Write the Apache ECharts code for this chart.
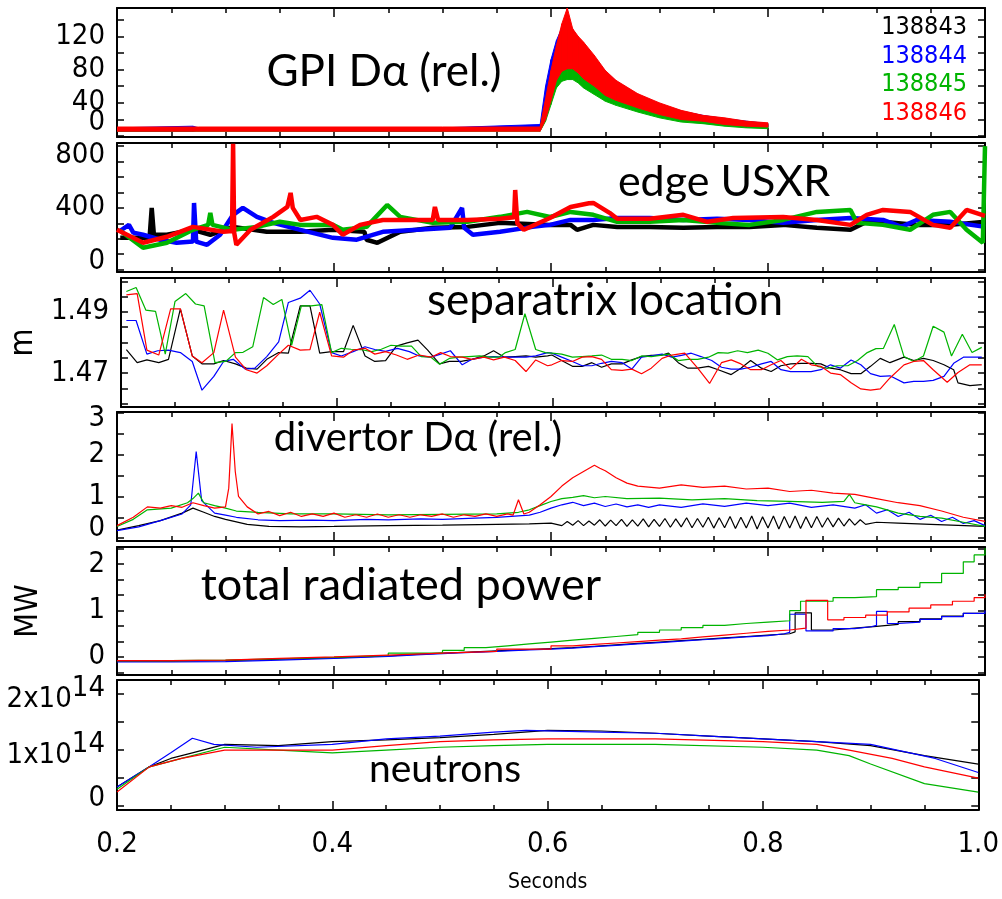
<!DOCTYPE html>
<html>
<head>
<meta charset="utf-8">
<script src="https://cdn.jsdelivr.net/npm/echarts@6/dist/echarts.min.js"></script>
<style>
  html, body { margin: 0; padding: 0; background: #fff; }
  #chart { width: 1002px; height: 899px; }
</style>
</head>
<body>
<div id="chart"></div>
<script>
// shots: 138843 black, 138844 blue, 138845 green, 138846 red
const shots = ['138843', '138844', '138845', '138846'];
const shotColors = ['#000000', '#0000ff', '#00b400', '#ff0000'];

// GPI D-alpha: noisy band, lower / upper envelope per shot (no GPI trace for 138843)
const gpiTime = [0.200, 0.270, 0.275, 0.400, 0.500, 0.590, 0.595, 0.600, 0.605, 0.610, 0.615, 0.620, 0.625, 0.630, 0.640, 0.650, 0.660, 0.680, 0.700, 0.720, 0.740, 0.760, 0.780, 0.800];
const gpiBlueLow = [6, 6, 7, 6, 6, 8, 30, 55, 72, 78, 80, 78, 72, 65, 56, 46, 40, 32, 25, 19, 16, 13, 11, 10];
const gpiBlueHigh = [10, 12, 10, 10, 10, 14, 60, 92, 115, 130, 140, 128, 118, 110, 95, 78, 66, 50, 39, 30, 25, 21, 18, 15];
const gpiGreenLow = [6, 6, 6, 6, 6, 6, 18, 38, 58, 66, 68, 68, 64, 58, 50, 42, 37, 29, 22, 17, 15, 12, 10, 9];
const gpiGreenHigh = [10, 10, 10, 10, 10, 10, 40, 72, 100, 122, 132, 122, 112, 105, 90, 74, 62, 48, 37, 29, 23, 20, 17, 14];
const gpiRedLow = [6, 6, 6, 6, 6, 6, 20, 43, 67, 78, 81, 81, 76, 69, 60, 49, 43, 34, 26, 20, 18, 14, 12, 11];
const gpiRedHigh = [11, 11, 11, 11, 11, 11, 45, 79, 109, 135, 154, 129, 120, 113, 97, 79, 67, 51, 40, 31, 25, 22, 18, 16];

// edge USXR [s, value]
const usxrBlack = [[0.203,206],[0.230,206],[0.232,400],[0.234,226],[0.246,226],[0.270,258],[0.286,226],[0.307,277],[0.338,245],[0.369,245],[0.399,258],[0.428,245],[0.430,194],[0.440,174],[0.461,245],[0.491,271],[0.523,277],[0.553,303],[0.599,290],[0.618,290],[0.624,258],[0.639,290],[0.661,277],[0.691,277],[0.722,271],[0.753,277],[0.783,277],[0.814,290],[0.845,271],[0.876,258],[0.891,310],[0.906,310],[0.937,290],[0.968,290],[1.0,310]];
const usxrBlue = [[0.203,252],[0.211,290],[0.215,240],[0.224,226],[0.240,194],[0.255,174],[0.270,182],[0.271,432],[0.273,182],[0.283,161],[0.295,226],[0.307,355],[0.316,400],[0.329,342],[0.344,303],[0.369,258],[0.399,206],[0.421,194],[0.445,245],[0.477,258],[0.507,271],[0.518,400],[0.520,271],[0.528,226],[0.553,245],[0.583,277],[0.599,290],[0.618,322],[0.639,322],[0.661,335],[0.691,335],[0.722,322],[0.753,330],[0.783,322],[0.814,303],[0.845,322],[0.876,335],[0.906,322],[0.923,277],[0.937,322],[0.968,310],[1.0,277]];
const usxrGreen = [[0.203,252],[0.224,142],[0.246,174],[0.270,258],[0.284,290],[0.286,368],[0.288,290],[0.307,258],[0.329,277],[0.350,310],[0.369,290],[0.399,290],[0.408,258],[0.430,277],[0.449,419],[0.461,342],[0.491,303],[0.523,310],[0.553,342],[0.578,374],[0.599,341],[0.618,374],[0.639,355],[0.661,310],[0.691,310],[0.722,322],[0.753,303],[0.783,290],[0.814,322],[0.845,374],[0.876,387],[0.882,303],[0.906,290],[0.931,258],[0.952,355],[0.968,374],[0.983,258],[0.998,174],[1.0,800]];
const usxrRed = [[0.200,258],[0.224,174],[0.246,213],[0.270,277],[0.298,245],[0.306,250],[0.307,815],[0.308,240],[0.310,161],[0.323,258],[0.344,342],[0.357,406],[0.360,497],[0.362,400],[0.369,322],[0.384,342],[0.399,290],[0.408,226],[0.424,290],[0.445,322],[0.491,322],[0.493,406],[0.496,322],[0.523,322],[0.553,330],[0.566,340],[0.567,516],[0.569,300],[0.575,258],[0.599,335],[0.618,406],[0.635,430],[0.639,432],[0.654,368],[0.661,329],[0.691,329],[0.722,355],[0.744,310],[0.768,335],[0.814,341],[0.845,322],[0.876,290],[0.891,355],[0.906,387],[0.931,374],[0.952,290],[0.968,271],[0.983,387],[1.0,348]];

// separatrix location (m)
const sepBlack = [[0.205,1.4777],[0.215,1.4734],[0.224,1.4743],[0.235,1.4734],[0.244,1.4745],[0.255,1.4910],[0.266,1.4756],[0.275,1.4730],[0.286,1.4730],[0.295,1.4741],[0.306,1.4730],[0.316,1.4716],[0.326,1.4713],[0.335,1.4745],[0.346,1.4767],[0.355,1.4765],[0.366,1.4920],[0.375,1.4920],[0.384,1.4765],[0.395,1.4770],[0.406,1.4770],[0.415,1.4856],[0.426,1.4756],[0.435,1.4738],[0.445,1.4741],[0.455,1.4788],[0.465,1.4799],[0.475,1.4808],[0.484,1.4775],[0.495,1.4730],[0.504,1.4738],[0.515,1.4738],[0.525,1.4745],[0.536,1.4756],[0.545,1.4773],[0.555,1.4752],[0.565,1.4754],[0.575,1.4756],[0.584,1.4752],[0.595,1.4756],[0.599,1.4759],[0.608,1.4741],[0.618,1.4722],[0.627,1.4722],[0.636,1.4734],[0.645,1.4719],[0.654,1.4730],[0.664,1.4730],[0.673,1.4743],[0.682,1.4754],[0.691,1.4758],[0.701,1.4759],[0.707,1.4765],[0.716,1.4734],[0.725,1.4716],[0.734,1.4716],[0.744,1.4722],[0.753,1.4711],[0.765,1.4695],[0.774,1.4716],[0.783,1.4741],[0.793,1.4716],[0.802,1.4705],[0.811,1.4724],[0.820,1.4730],[0.830,1.4732],[0.839,1.4732],[0.848,1.4730],[0.857,1.4716],[0.866,1.4711],[0.876,1.4698],[0.885,1.4698],[0.894,1.4722],[0.903,1.4748],[0.912,1.4734],[0.925,1.4752],[0.934,1.4741],[0.943,1.4748],[0.952,1.4741],[0.962,1.4727],[0.971,1.4711],[0.975,1.4668],[0.986,1.4659],[0.997,1.4662]];
const sepBlue = [[0.205,1.4872],[0.214,1.4872],[0.224,1.4762],[0.234,1.4773],[0.244,1.4775],[0.255,1.4767],[0.266,1.4738],[0.275,1.4644],[0.286,1.4689],[0.295,1.4738],[0.304,1.4745],[0.315,1.4713],[0.324,1.4716],[0.335,1.4754],[0.346,1.4802],[0.355,1.4931],[0.366,1.4945],[0.375,1.4971],[0.384,1.4926],[0.395,1.4767],[0.404,1.4756],[0.415,1.4770],[0.426,1.4786],[0.435,1.4777],[0.445,1.4771],[0.456,1.4781],[0.467,1.4770],[0.476,1.4756],[0.487,1.4752],[0.496,1.4762],[0.505,1.4773],[0.516,1.4727],[0.525,1.4745],[0.536,1.4752],[0.545,1.4754],[0.555,1.4752],[0.565,1.4752],[0.575,1.4752],[0.584,1.4756],[0.595,1.4767],[0.599,1.4765],[0.608,1.4752],[0.618,1.4738],[0.627,1.4724],[0.636,1.4724],[0.645,1.4732],[0.654,1.4738],[0.664,1.4734],[0.673,1.4713],[0.682,1.4752],[0.691,1.4756],[0.701,1.4762],[0.710,1.4752],[0.719,1.4758],[0.728,1.4765],[0.737,1.4754],[0.747,1.4741],[0.756,1.4719],[0.765,1.4713],[0.774,1.4713],[0.783,1.4719],[0.793,1.4730],[0.802,1.4738],[0.811,1.4711],[0.820,1.4705],[0.830,1.4705],[0.839,1.4705],[0.848,1.4711],[0.857,1.4727],[0.866,1.4716],[0.876,1.4743],[0.885,1.4727],[0.894,1.4698],[0.903,1.4689],[0.912,1.4691],[0.925,1.4668],[0.934,1.4673],[0.943,1.4673],[0.952,1.4676],[0.962,1.4689],[0.971,1.4732],[0.980,1.4752],[0.989,1.4752],[0.997,1.4752]];
const sepGreen = [[0.205,1.4967],[0.214,1.4980],[0.223,1.4906],[0.232,1.4902],[0.241,1.4762],[0.250,1.4934],[0.260,1.4960],[0.269,1.4926],[0.277,1.4920],[0.287,1.4734],[0.297,1.4738],[0.306,1.4767],[0.313,1.4768],[0.322,1.4786],[0.332,1.4947],[0.341,1.4924],[0.349,1.4941],[0.358,1.4791],[0.367,1.4920],[0.376,1.4920],[0.386,1.4924],[0.395,1.4767],[0.404,1.4781],[0.413,1.4778],[0.422,1.4777],[0.432,1.4770],[0.441,1.4778],[0.450,1.4791],[0.459,1.4788],[0.469,1.4788],[0.478,1.4754],[0.487,1.4752],[0.495,1.4729],[0.504,1.4748],[0.513,1.4752],[0.522,1.4754],[0.532,1.4756],[0.541,1.4752],[0.550,1.4752],[0.556,1.4767],[0.565,1.4777],[0.574,1.4894],[0.584,1.4777],[0.593,1.4767],[0.599,1.4765],[0.608,1.4762],[0.618,1.4752],[0.627,1.4754],[0.636,1.4756],[0.645,1.4759],[0.654,1.4745],[0.664,1.4745],[0.673,1.4741],[0.682,1.4756],[0.691,1.4754],[0.701,1.4759],[0.707,1.4762],[0.716,1.4741],[0.725,1.4745],[0.734,1.4745],[0.744,1.4752],[0.753,1.4767],[0.762,1.4765],[0.771,1.4773],[0.780,1.4767],[0.790,1.4775],[0.799,1.4765],[0.808,1.4743],[0.817,1.4754],[0.826,1.4756],[0.836,1.4754],[0.845,1.4722],[0.854,1.4715],[0.863,1.4724],[0.873,1.4724],[0.882,1.4741],[0.891,1.4767],[0.899,1.4780],[0.906,1.4781],[0.916,1.4859],[0.925,1.4754],[0.934,1.4738],[0.943,1.4756],[0.952,1.4853],[0.962,1.4834],[0.969,1.4756],[0.979,1.4827],[0.988,1.4767],[0.997,1.4784]];
const sepRed = [[0.205,1.4956],[0.215,1.4960],[0.224,1.4775],[0.235,1.4759],[0.246,1.4910],[0.255,1.4910],[0.266,1.4756],[0.275,1.4734],[0.286,1.4767],[0.295,1.4906],[0.306,1.4752],[0.316,1.4711],[0.326,1.4700],[0.335,1.4724],[0.346,1.4762],[0.355,1.4791],[0.366,1.4775],[0.375,1.4777],[0.384,1.4899],[0.395,1.4756],[0.406,1.4752],[0.415,1.4775],[0.426,1.4781],[0.435,1.4762],[0.445,1.4770],[0.455,1.4759],[0.465,1.4745],[0.476,1.4759],[0.487,1.4752],[0.496,1.4767],[0.505,1.4754],[0.516,1.4752],[0.525,1.4745],[0.536,1.4752],[0.545,1.4743],[0.555,1.4752],[0.565,1.4741],[0.575,1.4705],[0.584,1.4743],[0.595,1.4724],[0.599,1.4727],[0.608,1.4741],[0.618,1.4738],[0.627,1.4752],[0.636,1.4754],[0.645,1.4745],[0.654,1.4711],[0.664,1.4709],[0.673,1.4713],[0.682,1.4698],[0.691,1.4716],[0.701,1.4748],[0.710,1.4759],[0.722,1.4765],[0.734,1.4716],[0.745,1.4666],[0.756,1.4734],[0.765,1.4743],[0.774,1.4730],[0.783,1.4711],[0.793,1.4711],[0.802,1.4727],[0.811,1.4741],[0.820,1.4713],[0.830,1.4745],[0.839,1.4727],[0.848,1.4722],[0.857,1.4700],[0.866,1.4695],[0.876,1.4668],[0.885,1.4648],[0.894,1.4644],[0.903,1.4648],[0.912,1.4684],[0.925,1.4727],[0.934,1.4738],[0.943,1.4741],[0.952,1.4711],[0.965,1.4670],[0.975,1.4702],[0.986,1.4727],[0.997,1.4727]];

// divertor D-alpha (rel.)
const divBlack = [[0.20,0.19],[0.22,0.30],[0.24,0.42],[0.26,0.60],[0.27,0.72],[0.28,0.62],[0.29,0.52],[0.30,0.45],[0.32,0.33],[0.34,0.28],[0.37,0.27],[0.40,0.28],[0.45,0.30],[0.50,0.31],[0.55,0.33],[0.58,0.34],[0.60,0.36],[0.61,0.30],[0.615,0.40],[0.62,0.31],[0.625,0.42],[0.63,0.30],[0.635,0.41],[0.64,0.31],[0.645,0.44],[0.65,0.29],[0.655,0.43],[0.66,0.30],[0.665,0.45],[0.67,0.28],[0.675,0.44],[0.68,0.29],[0.685,0.46],[0.69,0.27],[0.695,0.45],[0.70,0.28],[0.705,0.47],[0.71,0.26],[0.715,0.46],[0.72,0.27],[0.725,0.49],[0.73,0.25],[0.735,0.47],[0.74,0.26],[0.745,0.50],[0.75,0.24],[0.755,0.49],[0.76,0.25],[0.765,0.52],[0.77,0.23],[0.775,0.50],[0.78,0.24],[0.785,0.53],[0.79,0.22],[0.795,0.51],[0.80,0.24],[0.805,0.53],[0.81,0.22],[0.815,0.52],[0.82,0.24],[0.825,0.53],[0.83,0.23],[0.835,0.51],[0.84,0.25],[0.845,0.52],[0.85,0.26],[0.855,0.49],[0.86,0.27],[0.865,0.48],[0.87,0.29],[0.875,0.46],[0.88,0.31],[0.885,0.44],[0.89,0.33],[0.90,0.38],[0.92,0.36],[0.95,0.33],[1.00,0.28]];
const divBlue = [[0.20,0.18],[0.22,0.27],[0.24,0.42],[0.26,0.58],[0.268,0.80],[0.273,2.08],[0.278,0.90],[0.29,0.60],[0.30,0.55],[0.31,0.50],[0.33,0.44],[0.35,0.42],[0.38,0.43],[0.40,0.42],[0.43,0.45],[0.45,0.44],[0.48,0.46],[0.50,0.45],[0.53,0.48],[0.55,0.50],[0.58,0.55],[0.59,0.62],[0.60,0.72],[0.61,0.80],[0.62,0.86],[0.63,0.78],[0.64,0.84],[0.65,0.76],[0.66,0.82],[0.67,0.75],[0.68,0.80],[0.69,0.74],[0.70,0.80],[0.72,0.74],[0.74,0.82],[0.76,0.76],[0.78,0.84],[0.80,0.78],[0.82,0.84],[0.84,0.74],[0.86,0.80],[0.88,0.72],[0.89,0.80],[0.90,0.60],[0.91,0.68],[0.92,0.52],[0.93,0.62],[0.94,0.45],[0.95,0.55],[0.96,0.40],[0.97,0.50],[0.98,0.35],[0.99,0.42],[1.00,0.30]];
const divGreen = [[0.20,0.28],[0.215,0.45],[0.228,0.68],[0.25,0.72],[0.265,0.85],[0.27,0.95],[0.275,1.08],[0.28,0.85],[0.29,0.78],[0.30,0.72],[0.31,0.65],[0.33,0.62],[0.36,0.58],[0.40,0.58],[0.45,0.56],[0.50,0.57],[0.55,0.58],[0.57,0.62],[0.58,0.68],[0.59,0.78],[0.60,0.88],[0.61,0.95],[0.62,0.98],[0.63,1.02],[0.64,0.97],[0.65,1.00],[0.67,0.95],[0.70,0.96],[0.73,0.92],[0.76,0.95],[0.79,0.90],[0.82,0.88],[0.85,0.86],[0.87,0.88],[0.875,1.05],[0.88,0.85],[0.89,0.80],[0.90,0.75],[0.92,0.60],[0.94,0.52],[0.96,0.48],[0.98,0.38],[1.00,0.28]];
const divRed = [[0.20,0.30],[0.215,0.50],[0.228,0.75],[0.24,0.72],[0.25,0.78],[0.26,0.74],[0.27,0.85],[0.28,0.78],[0.29,0.72],[0.30,0.75],[0.303,1.20],[0.306,2.75],[0.309,1.60],[0.312,1.00],[0.32,0.75],[0.33,0.58],[0.34,0.64],[0.35,0.54],[0.36,0.62],[0.37,0.52],[0.38,0.58],[0.39,0.52],[0.40,0.60],[0.41,0.50],[0.42,0.56],[0.43,0.50],[0.44,0.58],[0.45,0.50],[0.46,0.56],[0.47,0.50],[0.48,0.56],[0.49,0.52],[0.50,0.58],[0.51,0.50],[0.52,0.56],[0.53,0.52],[0.54,0.58],[0.55,0.52],[0.56,0.58],[0.565,0.55],[0.57,0.92],[0.575,0.58],[0.58,0.62],[0.59,0.80],[0.60,1.00],[0.61,1.25],[0.62,1.45],[0.63,1.60],[0.64,1.75],[0.645,1.68],[0.65,1.62],[0.66,1.45],[0.67,1.32],[0.68,1.25],[0.70,1.20],[0.72,1.28],[0.74,1.22],[0.76,1.25],[0.78,1.18],[0.80,1.20],[0.82,1.12],[0.84,1.15],[0.86,1.08],[0.88,1.05],[0.90,0.95],[0.92,0.85],[0.94,0.78],[0.96,0.65],[0.98,0.50],[1.00,0.40]];

// total radiated power (MW), sampled as steps
const pradBlack = [[0.20,-0.09],[0.25,-0.08],[0.30,-0.05],[0.35,-0.02],[0.40,0.02],[0.45,0.06],[0.48,0.08],[0.50,0.10],[0.52,0.12],[0.54,0.14],[0.56,0.16],[0.58,0.18],[0.60,0.20],[0.62,0.23],[0.64,0.26],[0.66,0.29],[0.68,0.32],[0.70,0.35],[0.72,0.38],[0.74,0.41],[0.76,0.44],[0.78,0.47],[0.80,0.50],[0.82,0.54],[0.825,0.95],[0.835,0.95],[0.84,0.58],[0.86,0.62],[0.88,0.66],[0.90,0.70],[0.92,0.76],[0.94,0.82],[0.96,0.88],[0.98,0.94],[1.00,1.00]];
const pradBlue = [[0.20,-0.11],[0.25,-0.10],[0.30,-0.07],[0.35,-0.03],[0.40,0.01],[0.45,0.05],[0.48,0.07],[0.50,0.09],[0.52,0.11],[0.54,0.13],[0.56,0.15],[0.58,0.17],[0.60,0.19],[0.62,0.22],[0.64,0.25],[0.66,0.28],[0.68,0.31],[0.70,0.34],[0.72,0.37],[0.74,0.40],[0.76,0.43],[0.78,0.46],[0.80,0.50],[0.815,0.53],[0.82,0.92],[0.83,0.92],[0.835,0.56],[0.86,0.61],[0.88,0.65],[0.895,0.68],[0.90,0.98],[0.905,0.98],[0.91,0.72],[0.92,0.75],[0.94,0.81],[0.96,0.87],[0.98,0.94],[1.00,1.00]];
const pradGreen = [[0.20,-0.08],[0.25,-0.07],[0.30,-0.04],[0.35,-0.01],[0.40,0.03],[0.45,0.08],[0.50,0.14],[0.52,0.20],[0.54,0.24],[0.56,0.28],[0.58,0.32],[0.60,0.36],[0.62,0.40],[0.64,0.44],[0.66,0.48],[0.68,0.53],[0.70,0.58],[0.72,0.63],[0.74,0.68],[0.76,0.72],[0.78,0.75],[0.80,0.78],[0.82,1.00],[0.83,1.20],[0.86,1.28],[0.88,1.30],[0.90,1.45],[0.92,1.50],[0.94,1.60],[0.96,1.80],[0.98,2.05],[0.99,2.20],[1.00,2.35]];
const pradRed = [[0.20,-0.08],[0.25,-0.07],[0.30,-0.03],[0.35,0.00],[0.40,0.04],[0.45,0.08],[0.50,0.12],[0.55,0.17],[0.60,0.24],[0.62,0.27],[0.64,0.30],[0.66,0.33],[0.68,0.36],[0.70,0.39],[0.72,0.43],[0.74,0.47],[0.76,0.51],[0.78,0.55],[0.80,0.58],[0.82,0.62],[0.835,1.22],[0.85,1.22],[0.855,0.80],[0.87,0.85],[0.89,0.90],[0.91,0.97],[0.93,1.05],[0.95,1.12],[0.97,1.20],[0.99,1.28],[1.00,1.35]];

// neutrons (units of 1e14 /s)
const neutBlack = [[0.20,0.34],[0.23,0.70],[0.25,0.85],[0.27,0.95],[0.30,1.10],[0.35,1.08],[0.40,1.15],[0.45,1.18],[0.50,1.22],[0.55,1.28],[0.60,1.35],[0.65,1.34],[0.70,1.30],[0.75,1.25],[0.80,1.20],[0.85,1.15],[0.90,1.08],[0.95,0.90],[1.00,0.75]];
const neutBlue = [[0.20,0.34],[0.23,0.70],[0.25,0.95],[0.27,1.21],[0.29,1.10],[0.33,1.05],[0.40,1.10],[0.45,1.20],[0.50,1.25],[0.55,1.32],[0.58,1.35],[0.65,1.32],[0.70,1.30],[0.75,1.25],[0.80,1.20],[0.85,1.15],[0.90,1.10],[0.96,0.85],[1.00,0.60]];
const neutGreen = [[0.20,0.30],[0.23,0.70],[0.26,0.85],[0.30,1.05],[0.35,1.00],[0.40,0.95],[0.45,1.00],[0.50,1.05],[0.55,1.08],[0.60,1.10],[0.70,1.10],[0.80,1.05],[0.85,1.00],[0.88,0.90],[0.90,0.75],[0.95,0.40],[1.00,0.25]];
const neutRed = [[0.20,0.25],[0.23,0.70],[0.26,0.85],[0.30,1.00],[0.35,1.00],[0.40,1.00],[0.45,1.08],[0.50,1.15],[0.55,1.18],[0.60,1.20],[0.70,1.20],[0.80,1.15],[0.85,1.10],[0.88,1.00],[0.92,0.85],[0.95,0.70],[1.00,0.50]];

// axis ticks and labels per panel
const gpiTicks = [0, 20, 40, 60, 80, 100, 120, 140];
const gpiLabels = [0, 40, 80, 120];
const usxrTicks = [0, 100, 200, 300, 400, 500, 600, 700, 800];
const usxrLabels = [0, 400, 800];
const sepTicks = [1.460, 1.465, 1.470, 1.475, 1.480, 1.485, 1.490, 1.495, 1.500];
const sepLabels = [1.47, 1.49];
const divTicks = [0, 0.5, 1, 1.5, 2, 2.5, 3];
const divLabels = [0, 1, 2, 3];
const pradTicks = [-0.3333, 0, 0.3333, 0.6667, 1, 1.3333, 1.6667, 2, 2.3333];
const pradLabels = [0, 1, 2];
const neutTicks = [0, 0.5, 1, 1.5, 2];
const neutLabels = [0, 1, 2];

const chart = echarts.init(document.getElementById('chart'));

const narrow = '"Liberation Sans Narrow", "DejaVu Sans Condensed", sans-serif';
const titleFont = 'Lato, "Open Sans", sans-serif';

// shift: labels kept inside the frame, pixels (negative = up)
const panels = [
	{ top: 8, height: 129, min: -1, max: 154, ticks: gpiTicks, labels: gpiLabels, shift: { 0: -14 } },
	{ top: 143, height: 129, min: -15, max: 820, ticks: usxrTicks, labels: usxrLabels, shift: { 0: -8, 800: 9 } },
	{ top: 278, height: 129, min: 1.4589, max: 1.5011, ticks: sepTicks, labels: sepLabels, name: 'm' },
	{ top: 412, height: 129, min: -0.07, max: 3.03, ticks: divTicks, labels: divLabels, shift: { 0: -10, 3: 5 } },
	{ top: 547, height: 128, min: -0.39, max: 2.37, ticks: pradTicks, labels: pradLabels, name: 'MW' },
	{ top: 680, height: 130, min: -0.07, max: 2.25, ticks: neutTicks, labels: neutLabels, shift: { 0: -8 }, sci: true }
];

const frameLine = { show: true, onZero: false, lineStyle: { color: '#000', width: 2 } };

const grids = [];
const xAxes = [];
const yAxes = [];

panels.forEach((p, i) => {
	grids.push({ left: 117, width: 868, top: p.top, height: p.height });

	const unit = (p.max - p.min) / p.height;
	// empty end slots at min / max so no real label is dropped by the min/max overlap check
	const labelAt = [p.min].concat(p.labels.map(v => v - ((p.shift && p.shift[v]) || 0) * unit), [p.max]);

	['bottom', 'top'].forEach(pos => {
		const isLast = i === panels.length - 1 && pos === 'bottom';
		xAxes.push({
			type: 'value',
			gridIndex: i,
			position: pos,
			min: 0.2,
			max: 1.0,
			interval: 0.2,
			axisLine: frameLine,
			axisTick: { show: true, inside: true, length: 9, lineStyle: { color: '#000', width: 1.5 } },
			minorTick: { show: true, splitNumber: 4, length: 5, lineStyle: { color: '#000', width: 1.5 } },
			splitLine: { show: false },
			axisLabel: {
				show: isLast,
				margin: 20,
				color: '#000',
				fontFamily: narrow,
				fontSize: 29,
				formatter: v => v.toFixed(1)
			},
			name: isLast ? 'Seconds' : '',
			nameLocation: 'middle',
			nameGap: 62,
			nameTextStyle: { color: '#000', fontFamily: narrow, fontSize: 21 }
		});
	});

	['left', 'right'].forEach(pos => {
		yAxes.push({
			type: 'value',
			gridIndex: i,
			position: pos,
			min: p.min,
			max: p.max,
			axisLine: frameLine,
			axisTick: { show: true, inside: true, length: 7, customValues: p.ticks, lineStyle: { color: '#000', width: 1.5 } },
			splitLine: { show: false },
			axisLabel: {
				show: pos === 'left',
				customValues: labelAt,
				showMinLabel: false,
				showMaxLabel: false,
				hideOverlap: false,
				margin: 12,
				color: '#000',
				fontFamily: narrow,
				fontSize: 29,
				formatter(v) {
					const k = labelAt.findIndex(q => Math.abs(q - v) < unit * 0.01);
					if (k <= 0 || k >= labelAt.length - 1) return '';
					const label = p.labels[k - 1];
					if (p.sci && label !== 0) {
						return '{b|' + label + 'x10}{s|14}';
					}
					return String(label);
				},
				rich: {
					b: { verticalAlign: 'bottom', lineHeight: 40 },
					s: { verticalAlign: 'top', lineHeight: 40 }
				}
			},
			name: pos === 'left' && p.name ? p.name : '',
			nameLocation: 'middle',
			nameGap: 72,
			nameTextStyle: { color: '#000', fontFamily: narrow, fontSize: 32 }
		});
	});
});

const series = [];

function addLine(panel, data, color, width, step) {
	series.push({
		type: 'line',
		xAxisIndex: panel * 2,
		yAxisIndex: panel * 2,
		data,
		step: step || false,
		symbol: 'none',
		lineStyle: { color, width },
		animation: false
	});
}

// filled band between a lower and an upper envelope, one quad per interval
function addBand(panel, time, low, high, color) {
	series.push({
		type: 'custom',
		xAxisIndex: panel * 2,
		yAxisIndex: panel * 2,
		data: time.map((t, k) => [t, low[k], high[k]]),
		encode: { x: 0, y: [1, 2] },
		clip: true,
		animation: false,
		renderItem(params, api) {
			const k = params.dataIndex;
			if (k >= time.length - 1) return null;
			const a = api.coord([time[k], low[k]]);
			const b = api.coord([time[k + 1], low[k + 1]]);
			const c = api.coord([time[k + 1], high[k + 1]]);
			const d = api.coord([time[k], high[k]]);
			return {
				type: 'polygon',
				shape: { points: [a, b, c, d] },
				style: { fill: color, stroke: color, lineWidth: 1 }
			};
		}
	});
}

addBand(0, gpiTime, gpiBlueLow, gpiBlueHigh, shotColors[1]);
addBand(0, gpiTime, gpiGreenLow, gpiGreenHigh, shotColors[2]);
addBand(0, gpiTime, gpiRedLow, gpiRedHigh, shotColors[3]);

[usxrBlack, usxrBlue, usxrGreen, usxrRed].forEach((d, k) => addLine(1, d, shotColors[k], 4.5));
[sepBlack, sepBlue, sepGreen, sepRed].forEach((d, k) => addLine(2, d, shotColors[k], 1.2));
[divBlack, divBlue, divGreen, divRed].forEach((d, k) => addLine(3, d, shotColors[k], 1.2));
[pradBlack, pradBlue, pradGreen, pradRed].forEach((d, k) => addLine(4, d, shotColors[k], 1.2, 'end'));
[neutBlack, neutBlue, neutGreen, neutRed].forEach((d, k) => addLine(5, d, shotColors[k], 1.2));

function caption(text, x, y, size) {
	return {
		type: 'text',
		z: 100,
		style: { text, x, y, fill: '#000', font: size + 'px ' + titleFont, align: 'center', verticalAlign: 'middle' }
	};
}

const legendY = [27, 56, 84, 113];

const graphic = [
	caption('GPI Dα (rel.)', 384, 72, 44),
	caption('edge USXR', 724, 182, 43),
	caption('separatrix location', 605, 301, 44),
	caption('divertor Dα (rel.)', 418, 438, 40),
	caption('total radiated power', 401, 585, 45),
	caption('neutrons', 445, 769, 39)
].concat(shots.map((s, k) => ({
	type: 'text',
	z: 100,
	style: { text: s, x: 967, y: legendY[k], fill: shotColors[k], font: '25px ' + narrow, align: 'right', verticalAlign: 'middle' }
})));

chart.setOption({
	animation: false,
	backgroundColor: '#fff',
	grid: grids,
	xAxis: xAxes,
	yAxis: yAxes,
	series,
	graphic
});
</script>
</body>
</html>
